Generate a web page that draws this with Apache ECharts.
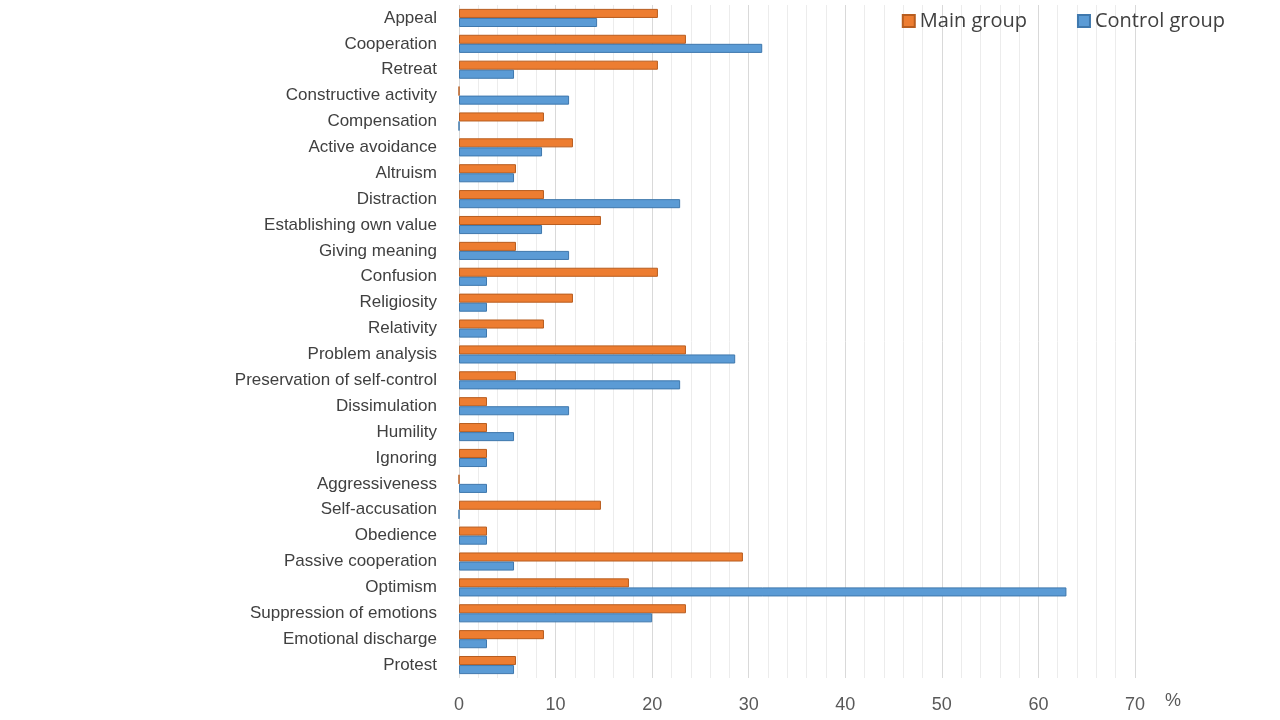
<!DOCTYPE html>
<html>
<head>
<meta charset="utf-8">
<script src="https://cdn.jsdelivr.net/npm/echarts@6/dist/echarts.min.js"></script>
<style>html,body{margin:0;padding:0;background:#fff}#main{width:1280px;height:720px}</style>
</head>
<body>
<div id="main"></div>
<script>
const categories = ['Appeal', 'Cooperation', 'Retreat', 'Constructive activity', 'Compensation',
    'Active avoidance', 'Altruism', 'Distraction', 'Establishing own value', 'Giving meaning',
    'Confusion', 'Religiosity', 'Relativity', 'Problem analysis', 'Preservation of self-control',
    'Dissimulation', 'Humility', 'Ignoring', 'Aggressiveness', 'Self-accusation', 'Obedience',
    'Passive cooperation', 'Optimism', 'Suppression of emotions', 'Emotional discharge', 'Protest']
const mainGroup = [20.6, 23.5, 20.6, 0, 8.8, 11.8, 5.9, 8.8, 14.7, 5.9,
    20.6, 11.8, 8.8, 23.5, 5.9, 2.9, 2.9, 2.9, 0, 14.7, 2.9,
    29.4, 17.6, 23.5, 8.8, 5.9]
const controlGroup = [14.3, 31.4, 5.7, 11.4, 0, 8.6, 5.7, 22.9, 8.6, 11.4,
    2.9, 2.9, 2.9, 28.6, 22.9, 11.4, 5.7, 2.9, 2.9, 0, 2.9,
    5.7, 62.9, 20.0, 2.9, 5.7]

var myChart = echarts.init(document.getElementById('main'))
var option = {
    animation: false,
    legend: {
        top: 6, right: 50, itemWidth: 12, itemHeight: 12, itemGap: 50,
        icon: 'rect',
        textStyle: { fontSize: 20, color: '#404040', fontFamily: 'Open Sans' },
        data: ['Main group', 'Control group']
    },
    grid: { left: 459, right: 145, top: 5, bottom: 42 },
    xAxis: {
        type: 'value', min: 0, max: 70, interval: 10,
        name: '%', nameLocation: 'end', nameGap: 30,
        nameTextStyle: { fontSize: 18, color: '#595959', verticalAlign: 'top', padding: [14, 0, 0, 0] },
        axisLabel: { fontSize: 18, color: '#595959', margin: 18 },
        axisLine: { show: false }, axisTick: { show: false },
        splitLine: { lineStyle: { color: '#d9d9d9' } },
        minorTick: { show: false, splitNumber: 5 },
        minorSplitLine: { show: true, lineStyle: { color: '#ececec' } }
    },
    yAxis: {
        type: 'category', data: categories, inverse: true,
        axisLine: { show: false }, axisTick: { show: false },
        axisLabel: { fontSize: 17, color: '#404040', margin: 22 }
    },
    series: [
        {
            name: 'Main group', type: 'bar', data: mainGroup,
            barGap: '0%', barCategoryGap: '30%',
            itemStyle: { color: '#ed7d31', borderColor: '#b85d1f', borderWidth: 1 }
        },
        {
            name: 'Control group', type: 'bar', data: controlGroup,
            itemStyle: { color: '#5b9bd5', borderColor: '#3f78ad', borderWidth: 1 }
        }
    ]
}
myChart.setOption(option)
</script>
</body>
</html>
